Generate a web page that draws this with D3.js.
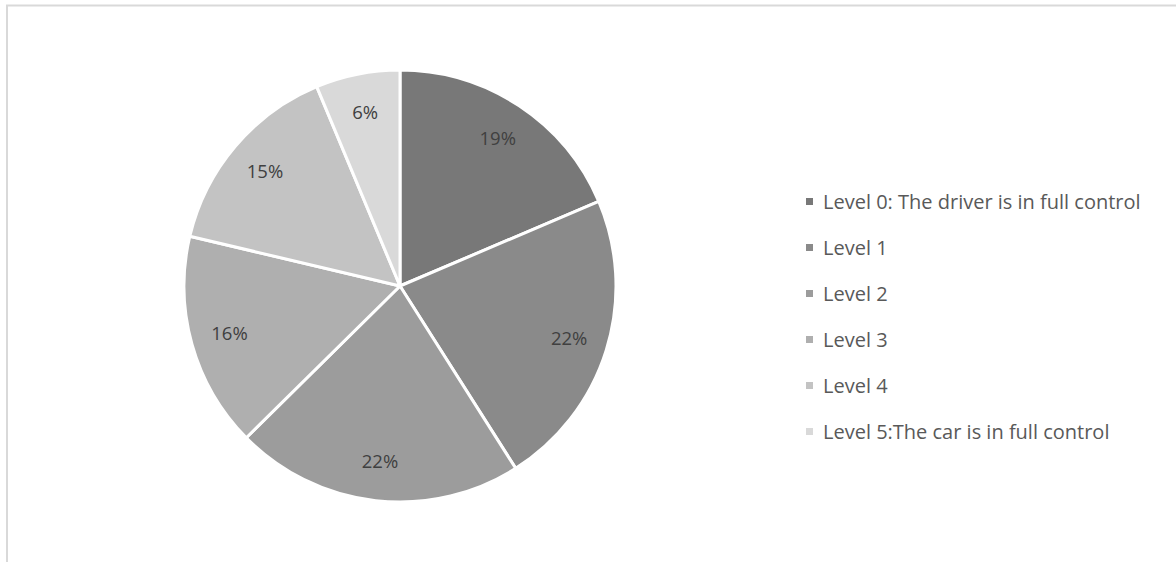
<!DOCTYPE html>
<html>
<head>
<meta charset="utf-8">
<script src="https://cdn.jsdelivr.net/npm/d3@7"></script>
<style>
  body { margin: 0; background: #fff; }
  svg { display: block; }
</style>
</head>
<body>
<div id="viz-wrapper"></div>
<script>
let width = 1176,
    height = 562;

// data
let categories = ['Level 0: The driver is in full control', 'Level 1', 'Level 2',
                  'Level 3', 'Level 4', 'Level 5:The car is in full control'];
let shares = [18.6, 22.4, 21.6, 16.1, 15.0, 6.3];
let colors = ['#787878', '#8a8a8a', '#9c9c9c', '#afafaf', '#c3c3c3', '#d9d9d9'];

let cx = 400, cy = 286, radius = 216;
let fontFamily = '"Open Sans", "Liberation Sans", Arial, sans-serif';

let svg = d3.select('#viz-wrapper')
  .append('svg')
  .attr('width', width)
  .attr('height', height);

// chart frame (runs off the right and bottom edge)
svg.append('rect')
  .attr('x', 7)
  .attr('y', 5.5)
  .attr('width', 1200)
  .attr('height', 600)
  .style('fill', 'none')
  .style('stroke', '#d9d9d9')
  .style('stroke-width', 2);

let data = categories.map(function(c, i) { return { name: c, value: shares[i], color: colors[i] }; });

let pie = d3.pie().sort(null).value(function(d) { return d.value; });
let arc = d3.arc().innerRadius(0).outerRadius(radius);
let labelArc = d3.arc().innerRadius(radius * 0.82).outerRadius(radius * 0.82);

let total = d3.sum(shares);

let viz = svg.append('g')
  .attr('transform', 'translate(' + cx + ',' + cy + ')');

viz.selectAll('path.slice')
  .data(pie(data))
  .enter()
  .append('path')
  .attr('class', 'slice')
  .attr('d', arc)
  .style('fill', function(d) { return d.data.color; })
  .style('stroke', '#fff')
  .style('stroke-width', 3)
  .style('stroke-linejoin', 'round');

viz.selectAll('text.pct')
  .data(pie(data))
  .enter()
  .append('text')
  .attr('class', 'pct')
  .attr('transform', function(d) { return 'translate(' + labelArc.centroid(d) + ')'; })
  .attr('text-anchor', 'middle')
  .attr('dy', '0.35em')
  .style('font-family', fontFamily)
  .style('font-size', '18.5px')
  .style('fill', '#404040')
  .text(function(d) { return Math.round(d.data.value / total * 100) + '%'; });

// legend
let legendY = d3.scalePoint().domain(categories).range([202, 432]);

let legend = svg.selectAll('g.legend')
  .data(data)
  .enter()
  .append('g')
  .attr('class', 'legend')
  .attr('transform', function(d) { return 'translate(806,' + legendY(d.name) + ')'; });

legend.append('rect')
  .attr('x', 0)
  .attr('y', -4)
  .attr('width', 7)
  .attr('height', 7)
  .style('fill', function(d) { return d.color; });

legend.append('text')
  .attr('x', 17)
  .attr('dy', '0.35em')
  .style('font-family', fontFamily)
  .style('font-size', '20px')
  .style('fill', '#595959')
  .text(function(d) { return d.name; });
</script>
</body>
</html>
